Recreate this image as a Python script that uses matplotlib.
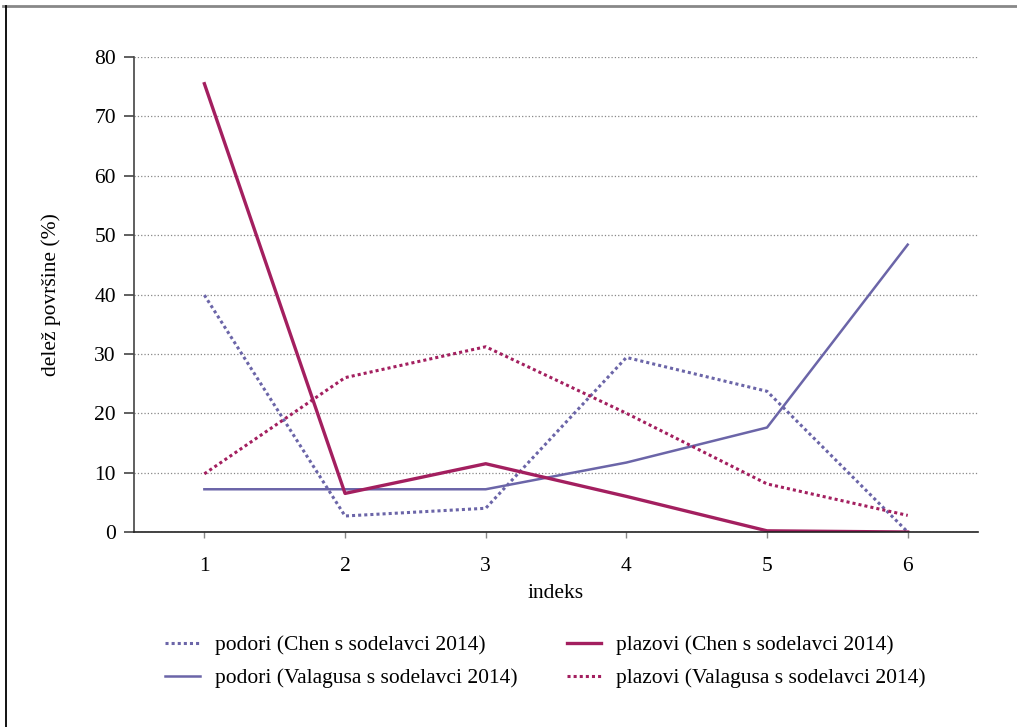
import matplotlib
matplotlib.use('Agg')
import matplotlib.pyplot as plt
from matplotlib.lines import Line2D

plt.rcParams['font.family'] = ['Liberation Serif', 'DejaVu Serif']

# data
indeks = [1, 2, 3, 4, 5, 6]
podori_chen = [39.9, 2.7, 4.0, 29.4, 23.7, 0.0]
podori_valagusa = [7.2, 7.2, 7.2, 11.7, 17.6, 48.4]
plazovi_chen = [75.5, 6.5, 11.5, 6.0, 0.2, 0.0]
plazovi_valagusa = [9.8, 26.0, 31.2, 20.0, 8.1, 2.8]
yticks = [0, 10, 20, 30, 40, 50, 60, 70, 80]

blue = '#6b65a8'
red = '#a31f5f'
fs = 15.5

fig = plt.figure(figsize=(10.17, 7.27), dpi=100)
ax = fig.add_axes([0.1318, 0.2682, 0.8299, 0.6534])

ax.plot(indeks, podori_chen, color=blue, lw=2.2, linestyle=(0, (1, 1)),
        label='podori (Chen s sodelavci 2014)')
ax.plot(indeks, podori_valagusa, color=blue, lw=1.8,
        label='podori (Valagusa s sodelavci 2014)')
ax.plot(indeks, plazovi_chen, color=red, lw=2.4,
        label='plazovi (Chen s sodelavci 2014)')
ax.plot(indeks, plazovi_valagusa, color=red, lw=2.2, linestyle=(0, (1, 1)),
        label='plazovi (Valagusa s sodelavci 2014)')

ax.set_xlim(0.5, 6.5)
ax.set_ylim(0, 80)
ax.set_xticks(indeks)
ax.set_yticks(yticks)
ax.yaxis.grid(True, linestyle=':', color='#888888', lw=0.9)
ax.set_axisbelow(True)

for s in ['top', 'right']:
    ax.spines[s].set_visible(False)
ax.spines['left'].set_color('#444444')
ax.spines['left'].set_linewidth(1.2)
ax.spines['bottom'].set_color('#222222')
ax.spines['bottom'].set_linewidth(1.2)

ax.tick_params(axis='y', length=7, width=1.2, color='#444444', labelsize=fs, pad=6)
ax.tick_params(axis='x', length=4, width=1, color='#888888', labelsize=fs, pad=14)

ax.set_xlabel('indeks', fontsize=fs, labelpad=6)
ax.set_ylabel('delež površine (%)', fontsize=fs, labelpad=24)

fig.legend(loc='upper left', bbox_to_anchor=(0.154, 0.138), ncol=2, frameon=False,
           fontsize=fs, handlelength=1.6, handletextpad=0.7, columnspacing=2.3,
           labelspacing=0.6, borderaxespad=0)

# page frame
fig.add_artist(Line2D([3 / 1017, 1], [1 - 6 / 727, 1 - 6 / 727], color='#888888', lw=2))
fig.add_artist(Line2D([6 / 1017, 6 / 1017], [0, 1 - 6 / 727], color='black', lw=1.3))

fig.savefig('out.png', dpi=100)
